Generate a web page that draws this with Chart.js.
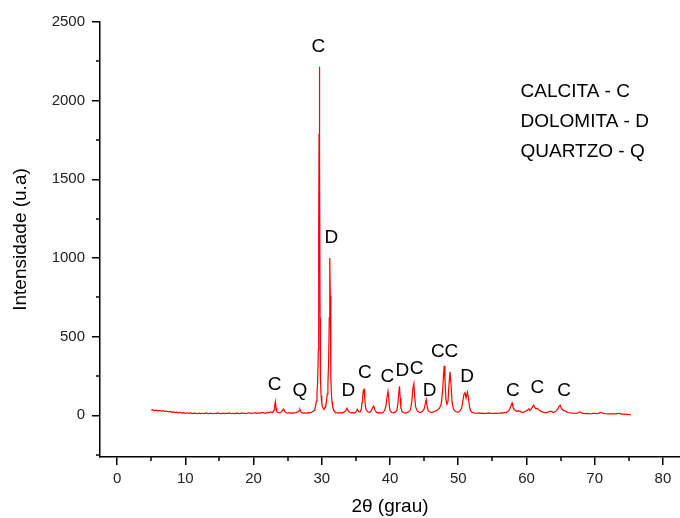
<!DOCTYPE html>
<html><head><meta charset="utf-8">
<script src="https://cdn.jsdelivr.net/npm/chart.js@4/dist/chart.umd.min.js"></script>
<style>html,body{margin:0;padding:0;background:#fff}#wrap{width:680px;height:518px}</style>
</head><body><div id="wrap"><canvas id="c" width="680" height="518"></canvas></div>
<script>
// 2θ (degrees) and intensity (u.a.)
const twoTheta = [
  5,5.25,5.5,5.75,6,6.25,6.5,6.75,7,7.25,7.5,7.75,8,8.25,8.5,8.75,9,9.25,9.5,9.75,
  10,10.25,10.5,10.75,11,11.25,11.5,11.75,12,12.25,12.5,12.75,13,13.25,13.5,13.75,14,14.25,14.5,14.75,15,15.25,15.5,15.75,16,16.25,16.5,16.75,17,17.25,17.5,17.75,18,18.25,18.5,18.75,19,19.25,19.5,19.75,
  20,20.25,20.5,20.75,21,21.25,21.5,21.75,22,22.25,22.5,22.75,
  22.9,23,23.1,23.2,23.3,23.4,23.5,23.75,
  24,24.2,24.4,24.6,24.8,25,25.25,25.5,25.75,26,26.25,26.5,
  26.7,26.8,26.9,27,27.25,27.5,27.75,28,28.25,28.5,28.75,
  28.9,29,29.1,29.2,29.3,29.4,29.5,29.55,29.6,29.65,29.7,29.75,29.8,29.9,30,30.1,30.2,30.3,30.4,30.5,30.6,30.7,30.8,30.9,31,31.1,31.15,31.2,31.25,31.3,31.35,31.4,31.5,31.6,31.7,31.8,31.9,32,
  32.25,32.5,32.75,33,33.25,33.5,33.7,33.9,34.1,34.3,34.5,34.75,35,35.2,35.4,35.6,35.8,35.9,36,36.1,36.2,36.3,36.4,36.5,36.75,37,37.25,37.4,37.6,37.8,38,38.25,38.5,38.75,39,39.2,39.4,39.55,39.7,39.8,39.9,40,40.25,40.5,40.75,
  41,41.15,41.3,41.4,41.5,41.6,41.8,42,42.25,42.5,42.75,43,43.2,43.35,43.5,43.6,43.75,44,44.25,44.5,44.75,45,45.15,45.3,45.45,45.6,45.8,46,46.25,46.5,46.75,47,47.25,47.5,47.7,47.85,47.95,48.05,48.2,48.35,48.5,48.65,48.8,48.95,49.1,49.3,49.5,49.75,
  50,50.25,50.5,50.7,50.85,51,51.15,51.35,51.5,51.65,51.8,52,52.25,52.5,52.75,53,53.25,53.5,53.75,54,54.25,54.5,54.75,55,55.25,55.5,55.75,56,56.25,56.5,56.75,57,57.2,57.4,57.6,57.8,57.9,58,58.2,58.4,58.6,58.8,59,59.2,59.4,59.6,59.8,
  60,60.2,60.35,60.5,60.7,60.9,61.05,61.2,61.4,61.6,61.8,62,62.2,62.4,62.6,62.8,63,63.2,63.4,63.6,63.8,64,64.2,64.4,64.6,64.8,64.95,65.1,65.3,65.5,65.7,65.9,66.1,66.4,66.7,67,67.3,67.6,67.8,67.95,68.1,68.4,68.7,69,69.3,69.6,69.8,70,70.3,70.6,70.9,71.1,71.4,71.7,72,72.3,72.6,72.9,73.2,73.5,73.7,74,74.3,74.5,74.8,75,75.3
];
const intensity = [
  32,36,29,33,28,31,26,29,25,27,22,25,20,22,17,20,16,19,14,17,
  13,16,12,15,11,14,12,10,14,11,13,10,15,12,11,14,10,13,11,15,12,10,14,11,13,12,15,10,13,11,14,12,10,15,12,13,11,16,12,14,
  13,17,12,16,14,18,15,13,19,16,22,18,
  22,35,60,86,50,26,19,16,
  18,30,40,22,16,14,17,13,16,15,18,22,
  30,38,28,18,14,16,13,17,15,19,26,
  32,45,62,90,140,215,420,1150,1790,2215,1700,620,240,125,78,55,44,40,44,52,66,90,135,200,330,620,900,1000,760,420,240,150,85,55,38,28,22,18,
  16,14,17,15,20,28,45,26,18,15,17,14,20,38,22,20,40,80,125,160,165,110,60,35,22,18,28,45,58,32,20,15,17,14,18,30,60,110,153,120,60,30,18,15,20,
  30,70,150,184,110,45,22,16,14,17,22,35,90,170,201,130,55,28,20,18,25,40,70,100,55,30,22,18,20,24,28,35,45,70,150,260,315,230,100,70,90,200,276,190,80,40,28,22,
  20,28,45,100,135,144,110,148,110,55,30,20,16,14,13,15,12,14,11,13,12,15,12,13,11,14,12,13,15,14,18,16,22,30,45,70,78,55,35,30,25,28,27,22,18,20,24,
  28,35,42,30,40,55,64,52,40,45,36,28,25,20,18,16,18,20,24,27,20,18,22,30,42,58,64,45,35,30,27,22,18,15,14,13,12,16,22,21,14,12,11,12,10,11,13,12,10,14,19,15,11,10,9,10,9,10,9,13,11,8,7,8,6,5,4
];
// Phase labels placed over peaks (2θ, intensity of the letter's centre)
const peakLetters = ['C','Q','C','D','D','C','C','D','C','D','C','C','D','C','C','C'];
const labelTheta = [23.1,26.8,29.5,31.4,33.9,36.3,39.6,41.8,43.9,45.8,47.0,49.0,51.3,58.0,61.6,65.5];
const labelIntensity = [197,153,2340,1126,159,273,242,280,293,159,401,401,248,153,172,153];
const phaseLegend = ['CALCITA - C','DOLOMITA - D','QUARTZO - Q'];
// Axis ticks
const xTickValues = [0,10,20,30,40,50,60,70,80];
const xMinorValues = [5,15,25,35,45,55,65,75];
const yTickValues = [0,500,1000,1500,2000,2500];
const yMinorValues = [-250,250,750,1250,1750,2250];

const FONT = "'Liberation Sans', Arial, sans-serif";

const minorTicks = {
  id: 'minorTicks',
  afterDraw(chart) {
    const ctx = chart.ctx, xs = chart.scales.x, ys = chart.scales.y;
    ctx.save();
    ctx.strokeStyle = '#000'; ctx.lineWidth = 1.5;
    ctx.beginPath();
    xMinorValues.forEach(v => {
      const px = Math.round(xs.getPixelForValue(v));
      ctx.moveTo(px, ys.bottom); ctx.lineTo(px, ys.bottom + 4);
    });
    yMinorValues.forEach(v => {
      const py = Math.round(ys.getPixelForValue(v));
      ctx.moveTo(xs.left, py); ctx.lineTo(xs.left - 4, py);
    });
    ctx.stroke();
    ctx.restore();
  }
};

const annotations = {
  id: 'annotations',
  afterDatasetsDraw(chart) {
    const ctx = chart.ctx, xs = chart.scales.x, ys = chart.scales.y, a = chart.chartArea;
    ctx.save();
    ctx.fillStyle = '#000';
    ctx.font = '19px ' + FONT;
    ctx.textAlign = 'center'; ctx.textBaseline = 'middle';
    peakLetters.forEach((t, i) => {
      ctx.fillText(t, xs.getPixelForValue(labelTheta[i]), ys.getPixelForValue(labelIntensity[i]));
    });
    ctx.textAlign = 'left';
    const lx = a.left + (a.right - a.left) * 0.725;
    phaseLegend.forEach((t, i) => {
      ctx.fillText(t, lx, a.top + (a.bottom - a.top) * (0.16 + i * 0.069));
    });
    ctx.restore();
  }
};

const points = twoTheta.map((x, i) => ({ x, y: intensity[i] }));

new Chart(document.getElementById('c'), {
  type: 'line',
  data: { datasets: [{ data: points, borderColor: '#ff0000', borderWidth: 1.2, pointRadius: 0, tension: 0, fill: false }] },
  options: {
    responsive: false, animation: false,
    layout: { padding: { top: 22, right: 0, left: 0, bottom: 0 } },
    plugins: { legend: { display: false }, tooltip: { enabled: false } },
    scales: {
      x: {
        type: 'linear', min: -2.5, max: 82.5,
        afterFit(s) { s.height = 61; },
        afterBuildTicks(s) { s.ticks = xTickValues.map(v => ({ value: v })); },
        ticks: { color: '#222', padding: 5, font: { family: FONT, size: 15 }, maxRotation: 0, autoSkip: false, callback: v => String(v) },
        grid: { drawOnChartArea: false, drawTicks: true, tickLength: 8, color: '#000', lineWidth: 1.5 },
        border: { display: true, color: '#000', width: 1.5 },
        title: { display: true, text: '2θ (grau)', color: '#000', font: { family: FONT, size: 19 }, padding: { top: 6, bottom: 0 } }
      },
      y: {
        type: 'linear', min: -265, max: 2500,
        afterFit(s) { s.width = 100; },
        afterBuildTicks(s) { s.ticks = yTickValues.map(v => ({ value: v })); },
        ticks: { color: '#222', padding: 7, font: { family: FONT, size: 15 }, autoSkip: false, callback: v => String(v) },
        grid: { drawOnChartArea: false, drawTicks: true, tickLength: 8, color: '#000', lineWidth: 1.5 },
        border: { display: true, color: '#000', width: 1.5 },
        title: { display: true, text: 'Intensidade (u.a)', color: '#000', font: { family: FONT, size: 19 }, padding: { top: 9, bottom: 0 } }
      }
    }
  },
  plugins: [minorTicks, annotations]
});
</script>
</body></html>
